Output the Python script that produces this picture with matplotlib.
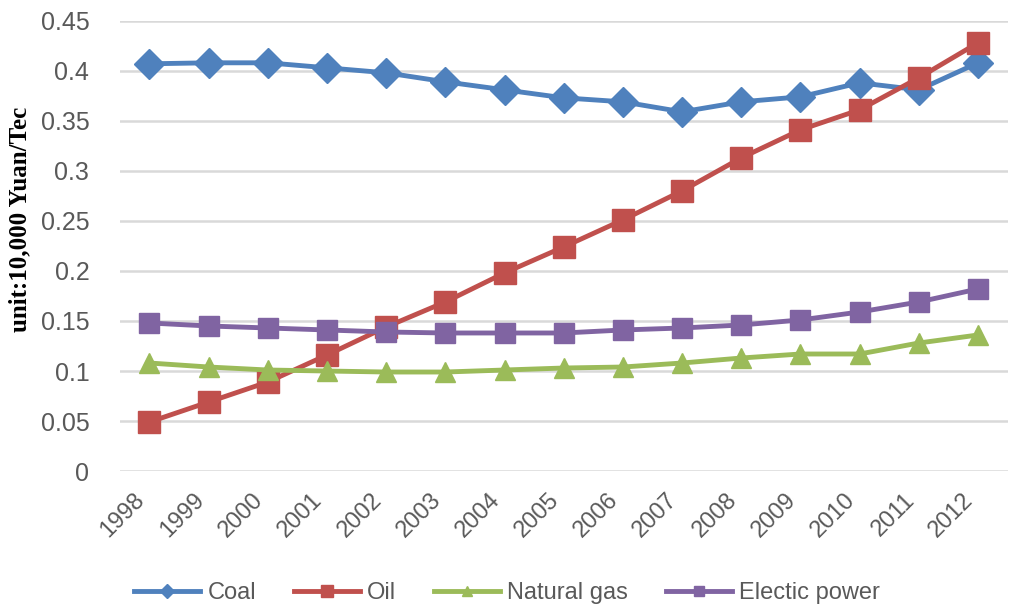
import matplotlib
matplotlib.use("Agg")
import matplotlib.pyplot as plt
import numpy as np

years = ["1998", "1999", "2000", "2001", "2002", "2003", "2004", "2005",
         "2006", "2007", "2008", "2009", "2010", "2011", "2012"]
coal = [0.407, 0.408, 0.408, 0.403, 0.398, 0.389, 0.381, 0.373,
        0.369, 0.359, 0.369, 0.374, 0.388, 0.381, 0.408]
oil = [0.049, 0.069, 0.089, 0.116, 0.144, 0.169, 0.198, 0.224,
       0.251, 0.280, 0.313, 0.341, 0.361, 0.393, 0.428]
natural_gas = [0.108, 0.104, 0.101, 0.100, 0.099, 0.099, 0.101, 0.103,
               0.104, 0.108, 0.113, 0.117, 0.117, 0.128, 0.136]
electric_power = [0.148, 0.145, 0.143, 0.141, 0.139, 0.138, 0.138, 0.138,
                  0.141, 0.143, 0.146, 0.151, 0.159, 0.169, 0.182]
yticks = [0, 0.05, 0.1, 0.15, 0.2, 0.25, 0.3, 0.35, 0.4, 0.45]
ytick_labels = ["0", "0.05", "0.1", "0.15", "0.2", "0.25", "0.3", "0.35", "0.4", "0.45"]

series = [
    ("Coal", coal, "#4F81BD", "D", 15),
    ("Oil", oil, "#C0504D", "s", 16),
    ("Natural gas", natural_gas, "#9BBB59", "^", 15),
    ("Electic power", electric_power, "#8064A2", "s", 15),
]

fig = plt.figure(figsize=(10.24, 6.11), dpi=100)
ax = fig.add_axes([0.117, 0.229, 0.867, 0.737])
x = np.arange(len(years))
for name, vals, color, marker, ms in series:
    ax.plot(x, vals, color=color, lw=3.5, marker=marker, markersize=ms,
            markeredgecolor=color, label=name, zorder=3)

ax.set_xlim(-0.5, len(years) - 0.5)
ax.set_ylim(0, 0.45)
ax.set_yticks(yticks)
ax.set_yticklabels(ytick_labels, fontfamily="Liberation Sans", fontsize=18, color="#595959")
ax.set_xticks(x)
ax.set_xticklabels(years, rotation=45, ha="right", va="top",
                   fontfamily="Liberation Sans", fontsize=17, color="#595959")
ax.tick_params(axis="both", length=0)
ax.tick_params(axis="y", pad=22)
ax.tick_params(axis="x", pad=13)
ax.grid(axis="y", color="#D9D9D9", lw=1.8, zorder=0)
for s in ax.spines.values():
    s.set_visible(False)
ax.set_axisbelow(True)
ax.set_ylabel("unit:10,000 Yuan/Tec", fontfamily="Liberation Serif", fontweight="bold",
              fontsize=18, color="black")
ax.yaxis.set_label_coords(-0.1, 0.56)

leg = fig.legend(loc="center", bbox_to_anchor=(0.495, 0.029), ncol=4, frameon=False,
                 prop={"family": "Liberation Sans", "size": 17}, handlelength=2.8,
                 handletextpad=0.3, columnspacing=1.6, markerscale=0.5)
for t in leg.get_texts():
    t.set_color("#595959")

fig.savefig("out.png", dpi=100)
